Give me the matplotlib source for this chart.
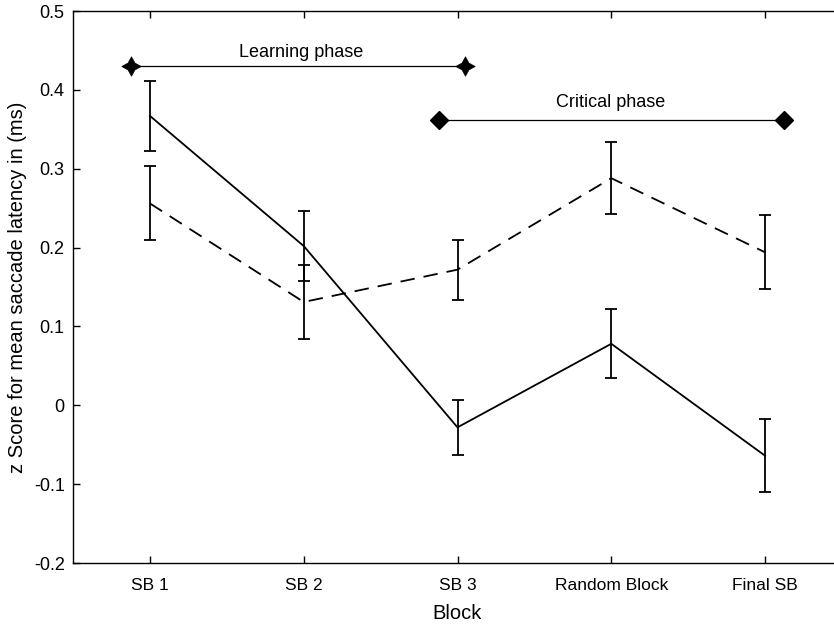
import matplotlib
matplotlib.use("Agg")
import matplotlib.pyplot as plt
import numpy as np

plt.rcParams['font.family'] = ['Liberation Sans', 'DejaVu Sans']

blocks = ["SB 1", "SB 2", "SB 3", "Random Block", "Final SB"]
solid_mean = [0.367, 0.202, -0.028, 0.078, -0.064]
solid_err = [0.044, 0.045, 0.035, 0.044, 0.046]
dashed_mean = [0.256, 0.131, 0.172, 0.288, 0.194]
dashed_err = [0.047, 0.047, 0.038, 0.046, 0.047]

learning_x = [0.877, 3.05]
learning_y = 0.43
critical_x = [2.877, 5.12]
critical_y = 0.362

fig = plt.figure(figsize=(8.34, 6.25), dpi=100)
ax = fig.add_axes([73/834, 62/625, (842-73)/834, (563-11)/625])

x = np.arange(1, len(blocks) + 1)
ax.errorbar(x, solid_mean, yerr=solid_err, color='black', lw=1.3,
            capsize=4.3, capthick=1.3, elinewidth=1.3)
ax.errorbar(x, dashed_mean, yerr=dashed_err, color='black', lw=1.3,
            linestyle=(0, (8, 5)), capsize=4.3, capthick=1.3, elinewidth=1.3)

ax.plot(learning_x, [learning_y, learning_y], color='black', lw=0.9,
        marker=(4, 1, 0), markersize=14, markeredgewidth=0.5)
ax.text(np.mean(learning_x) + 0.02, learning_y + 0.007, "Learning phase",
        ha='center', va='bottom', fontsize=13)
ax.plot(critical_x, [critical_y, critical_y], color='black', lw=0.9,
        marker='D', markersize=9)
ax.text(np.mean(critical_x), critical_y + 0.011, "Critical phase",
        ha='center', va='bottom', fontsize=13)

ax.set_xlim(0.5, 5.5)
ax.set_ylim(-0.2, 0.5)
ax.set_xticks(x)
ax.set_xticklabels(blocks, fontsize=12.5)
ax.set_yticks(np.round(np.arange(-0.2, 0.51, 0.1), 1))
ax.set_yticklabels(["-0.2", "-0.1", "0", "0.1", "0.2", "0.3", "0.4", "0.5"], fontsize=13)
ax.tick_params(direction='in', top=True, right=True, length=5, width=1)
ax.tick_params(axis='x', pad=11)
ax.tick_params(axis='y', pad=6)
for s in ax.spines.values():
    s.set_linewidth(1.0)
ax.set_xlabel("Block", fontsize=14.5, labelpad=8)
ax.set_ylabel("z Score for mean saccade latency in (ms)", fontsize=14.5, labelpad=5)

fig.savefig("out.png", dpi=100)
